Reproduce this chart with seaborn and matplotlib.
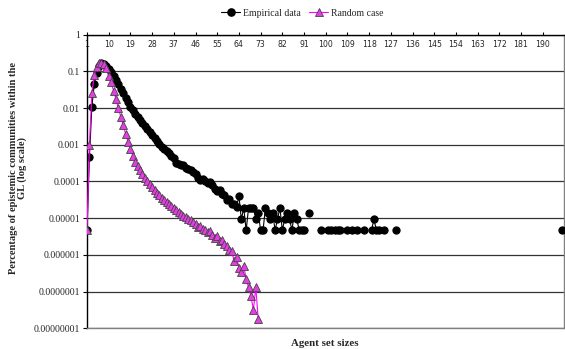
import numpy as np
import pandas as pd
import matplotlib
matplotlib.use("Agg")
import matplotlib.pyplot as plt
from matplotlib.lines import Line2D
import seaborn as sns

# ---------------- data ----------------
N_SIZES = 198
sizes = list(range(1, N_SIZES + 1))

empirical = [
    4.7e-6, 4.6e-4, 1.07e-2, 4.4e-2, 9.3e-2, 0.141, 0.166, 0.158, 0.138, 0.117,
    0.098, 0.076, 0.058, 0.044, 0.033, 0.025, 0.019, 0.0145, 0.011, 0.0087,
    0.0071, 0.0058, 0.0048, 0.0040, 0.0033, 0.00275, 0.0023, 0.0019, 0.00158, 0.00129,
    0.00107, 0.00089, 0.00076, 0.00066, 0.00059, 0.00050, 0.00045, 0.00032, 0.00030, 0.00028,
    0.00028, 0.00024, 0.00022, 0.00020, 0.00018, 0.00016, 0.000126, 0.000112, 0.00012, 0.00010,
    8.9e-5, 9.5e-5, 7.9e-5, 6.3e-5, 5.6e-5, 6.0e-5, 4.7e-5, 4.3e-5, 3.2e-5, 3.3e-5,
    2.5e-5, 2.5e-5, 2.0e-5, 4.0e-5,
    # 65 ..
    9.4e-6, 1.9e-5, 4.7e-6, 1.9e-5, 1.9e-5, 1.9e-5, 9.4e-6, 1.4e-5, 4.7e-6, 4.7e-6,
    1.9e-5, 1.4e-5, 9.4e-6, 1.4e-5, 4.7e-6, 9.4e-6, 1.9e-5, 4.7e-6, 9.4e-6, 1.4e-5,
    9.4e-6, 4.7e-6, 1.4e-5, 9.4e-6, 4.7e-6, 4.7e-6, 4.7e-6, None, 1.4e-5, None,
    # 95 ..
    None, None, None, 4.7e-6, None, None, 4.7e-6, 4.7e-6, None, 4.7e-6,
    4.7e-6, 4.7e-6, None, None, 4.7e-6, None, 4.7e-6, None, 4.7e-6, None,
    None, 4.7e-6, None, None, 4.7e-6, 9.4e-6, 4.7e-6, 4.7e-6, None, 4.7e-6,
    None, None, None, None, 4.7e-6,
]
empirical = empirical + [None] * (N_SIZES - 1 - len(empirical)) + [4.7e-6]

random_case = [
    4.7e-6, 1.0e-3, 0.025, 0.08, 0.13, 0.165, 0.172, 0.158, 0.12, 0.076,
    0.05, 0.03, 0.0174, 0.010, 0.0058, 0.0034, 0.0020, 0.0012, 0.00076, 0.00050,
    0.00035, 0.00026, 0.00020, 0.000158, 0.000126, 0.000105, 8.7e-5, 7.2e-5, 6.0e-5, 5.0e-5,
    4.3e-5, 3.6e-5, 3.2e-5, 2.75e-5, 2.4e-5, 2.1e-5, 1.86e-5, 1.66e-5, 1.48e-5, 1.32e-5,
    1.17e-5, 1.07e-5, 9.5e-6, 8.9e-6, 7.9e-6, 7.1e-6, 5.6e-6, 6.0e-6, 5.0e-6, 4.7e-6,
    4.2e-6, 4.5e-6, 3.5e-6, 2.8e-6, 3.2e-6, 2.4e-6, 2.5e-6, 2.0e-6, 1.8e-6, 1.4e-6,
    1.26e-6, 7.0e-7, 8.9e-7, 4.5e-7, 3.5e-7, 5.0e-7, 2.2e-7, 1.3e-7, 7.4e-8, 3.2e-8,
    1.3e-7, 1.8e-8,
]

ytick_values = [1e-8, 1e-7, 1e-6, 1e-5, 1e-4, 1e-3, 1e-2, 1e-1, 1]
ytick_labels = ["0.00000001", "0.0000001", "0.000001", "0.00001", "0.0001",
                "0.001", "0.01", "0.1", "1"]
xtick_values = list(range(1, 191, 9))

legend_labels = ["Empirical data", "Random case"]


def frame(values):
    v = np.array([np.nan if x is None else x for x in values], dtype=float)
    df = pd.DataFrame({"size": sizes[:len(v)], "value": v})
    df["seg"] = np.cumsum(np.isnan(v))  # break lines at gaps
    return df.dropna()


df_emp = frame(empirical)
df_rnd = frame(random_case)

# ---------------- plot ----------------
sns.set_style("white")
plt.rcParams["font.family"] = ["Liberation Serif", "DejaVu Serif"]

fig = plt.figure(figsize=(5.65, 3.49), dpi=100)
ax = fig.add_axes([0.154, 0.0593, 0.845, 0.8413])

pink_line = "#FF00FF"
pink_face = "#E63CE6"

sns.lineplot(data=df_emp, x="size", y="value", units="seg", estimator=None,
             color="black", lw=0.8, marker="o", markersize=5.2,
             markerfacecolor="black", markeredgecolor="black", ax=ax, zorder=3)
sns.lineplot(data=df_rnd, x="size", y="value", units="seg", estimator=None,
             color=pink_line, lw=0.8, marker="^", markersize=5.5,
             markerfacecolor=pink_face, markeredgecolor="#444444",
             markeredgewidth=0.6, ax=ax, zorder=4)

ax.set_yscale("log")
ax.set_ylim(1e-8, 1)
ax.set_xlim(1, 199)

ax.set_yticks(ytick_values)
ax.set_yticklabels(ytick_labels)
ax.yaxis.set_minor_locator(matplotlib.ticker.NullLocator())
ax.tick_params(axis="y", which="major", direction="out", length=3, width=0.8,
               labelsize=7, pad=2, left=True, color="black")

ax.xaxis.tick_top()
ax.set_xticks(xtick_values)
ax.set_xticklabels([str(v) for v in xtick_values],
                   family=["DejaVu Sans"])
ax.tick_params(axis="x", which="major", direction="out", length=2.5, width=0.8,
               labelsize=5.6, pad=-13, top=True, bottom=False, color="black")

ax.grid(axis="y", which="major", color="#333333", lw=0.9)
ax.grid(axis="x", visible=False)
ax.set_axisbelow(True)

for side in ["left", "top"]:
    ax.spines[side].set_color("black")
    ax.spines[side].set_linewidth(1.0)
for side in ["right", "bottom"]:
    ax.spines[side].set_color("#808080")
    ax.spines[side].set_linewidth(1.0)

ax.set_xlabel("")
ax.set_ylabel("")

fig.text(0.575, 0.017, "Agent set sizes", ha="center", va="center",
         fontsize=7.8, fontweight="bold")
fig.text(0.032, 0.52,
         "Percentage of epistemic communities within the\nGL (log scale)",
         ha="center", va="center", rotation=90, fontsize=7.6,
         fontweight="bold", linespacing=1.0, multialignment="center")

handles = [
    Line2D([], [], color="black", lw=0.8, marker="o", markersize=5.2),
    Line2D([], [], color=pink_line, lw=0.8, marker="^", markersize=5.5,
           markerfacecolor=pink_face, markeredgecolor="#444444",
           markeredgewidth=0.6),
]
fig.legend(handles, legend_labels, loc="center", bbox_to_anchor=(0.535, 0.962),
           ncol=2, frameon=False, fontsize=7, handlelength=2.0,
           handletextpad=0.3, columnspacing=0.8, borderaxespad=0)

fig.savefig("out.png", dpi=100)
